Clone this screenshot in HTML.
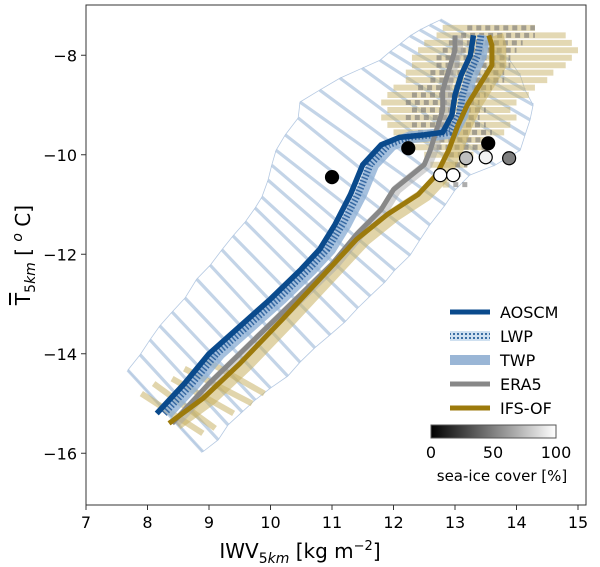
<!DOCTYPE html>
<html><head><meta charset="utf-8"><style>
body{margin:0;background:#fff;}
svg{display:block;font-family:"DejaVu Sans","Liberation Sans",sans-serif;}
</style></head><body>
<svg id="chart" width="600" height="567" viewBox="0 0 600 567">
<defs>
<pattern id="dots" width="4" height="4" patternUnits="userSpaceOnUse"><rect width="4" height="4" fill="#cfe0f0"/><circle cx="2" cy="2" r="1" fill="#0a4a8c"/></pattern>
<linearGradient id="ice" x1="0" x2="1"><stop offset="0" stop-color="#000"/><stop offset="1" stop-color="#fff"/></linearGradient>
</defs>
<g id="plot"></g>
<rect x="86" y="5" width="500" height="500" fill="none" stroke="#333" stroke-width="1"/>
<g id="axes"></g>
<text x="300" y="558" font-size="20" text-anchor="middle">IWV<tspan font-size="14" dy="5">5<tspan font-style="italic">km</tspan></tspan><tspan dy="-5"> [kg m</tspan><tspan font-size="13" dy="-8">−2</tspan><tspan dy="8">]</tspan></text>
<text transform="translate(30,255) rotate(-90)" font-size="20" text-anchor="middle"><tspan text-decoration="overline">T</tspan><tspan font-size="14" dy="5">5<tspan font-style="italic">km</tspan></tspan><tspan dy="-5"> [ </tspan><tspan font-style="italic" font-size="14" dy="-8">o</tspan><tspan dy="8"> C]</tspan></text>
<g id="legend">
<line x1="450" y1="312" x2="490" y2="312" stroke="#0a4a8c" stroke-width="5"/>
<text x="500" y="318" font-size="16">AOSCM</text>
<rect x="450" y="331" width="40" height="10" fill="url(#dots)"/>
<text x="500" y="342" font-size="16">LWP</text>
<rect x="450" y="355" width="40" height="10" fill="#9ab6d6"/>
<text x="500" y="366" font-size="16">TWP</text>
<line x1="450" y1="384" x2="490" y2="384" stroke="#888" stroke-width="5"/>
<text x="500" y="390" font-size="16">ERA5</text>
<line x1="450" y1="408" x2="490" y2="408" stroke="#9c7a0c" stroke-width="5"/>
<text x="500" y="414" font-size="16">IFS-OF</text>
<rect x="431" y="425" width="125" height="13" fill="url(#ice)" stroke="#555"/>
<text x="431" y="458" font-size="16" text-anchor="middle">0</text>
<text x="493" y="458" font-size="16" text-anchor="middle">50</text>
<text x="556" y="458" font-size="16" text-anchor="middle">100</text>
<text x="502" y="481" font-size="15" text-anchor="middle">sea-ice cover [%]</text>
</g>
</svg>
<script>
const xTicks=[7,8,9,10,11,12,13,14,15];
const yTicks=[-8,-10,-12,-14,-16];
const aoscmX=[8.15,8.6,9.0,9.5,10.0,10.5,10.8,11.05,11.3,11.5,11.8,12.1,12.5,12.8,12.95,13.0,13.1,13.25,13.3];
const aoscmY=[-15.2,-14.6,-14.0,-13.45,-12.9,-12.3,-11.9,-11.4,-10.8,-10.2,-9.8,-9.65,-9.6,-9.55,-9.2,-8.8,-8.4,-8.0,-7.6];
const era5X=[8.4,9.0,9.5,10.0,10.5,11.0,11.4,11.8,12.0,12.3,12.5,12.6,12.7,12.8,12.8,12.9,13.0,13.0];
const era5Y=[-15.4,-14.6,-14.0,-13.4,-12.8,-12.2,-11.6,-11.1,-10.7,-10.4,-10.2,-9.9,-9.5,-9.1,-8.7,-8.3,-7.9,-7.6];
const ifsX=[8.35,8.9,9.5,10.2,10.8,11.4,11.9,12.4,12.7,12.9,13.05,13.2,13.4,13.6,13.6,13.55];
const ifsY=[-15.4,-14.9,-14.2,-13.3,-12.5,-11.7,-11.2,-10.8,-10.4,-9.9,-9.4,-9.0,-8.6,-8.2,-7.8,-7.6];
const envLX=[7.68,7.88,8.04,8.20,8.40,8.61,8.80,9.02,9.21,9.39,9.59,9.75,9.86,9.96,10.02,10.09,10.24,10.45,10.48,10.80,11.13,11.49,11.78,11.94,12.11,12.27,12.43,12.59,12.76];
const envLY=[-14.33,-14.02,-13.72,-13.44,-13.16,-12.88,-12.50,-12.22,-11.91,-11.63,-11.35,-11.07,-10.85,-10.51,-10.21,-9.91,-9.60,-9.26,-8.94,-8.70,-8.46,-8.26,-8.10,-7.93,-7.77,-7.61,-7.49,-7.39,-7.29];
const envRX=[8.90,9.15,9.31,9.54,9.75,10.0,10.28,10.48,10.72,10.97,11.21,11.42,11.62,11.86,12.02,12.27,12.43,12.59,12.84,13.0,13.24,13.65,14.06,14.14,14.22,14.27,14.14,14.06,13.89];
const envRY=[-15.97,-15.73,-15.43,-15.17,-14.93,-14.69,-14.45,-14.17,-13.88,-13.62,-13.36,-13.08,-12.84,-12.56,-12.32,-12.02,-11.71,-11.41,-11.01,-10.71,-10.41,-10.21,-9.91,-9.60,-9.30,-9.00,-8.70,-8.40,-8.10];
const goldY=[-7.45,-7.6,-7.75,-7.9,-8.05,-8.2,-8.35,-8.5,-8.65,-8.8,-8.95,-9.1,-9.25,-9.4,-9.55,-9.7,-9.85,-10.0,-10.2,-10.4,-10.6];
const goldL=[12.8,12.7,12.5,12.4,12.3,12.3,12.2,12.2,12.0,11.9,11.8,11.9,11.8,11.9,12.0,12.2,12.3,12.5,12.6,12.7,12.8];
const goldR=[14.3,14.8,14.9,15.0,14.9,14.8,14.6,14.5,14.3,14.2,14.0,13.9,14.0,13.9,13.8,13.6,13.5,13.3,13.2,13.0,12.9];
const sGoldX1=[7.9,8.1,8.4,8.6,8.9];
const sGoldY1=[-14.8,-14.6,-14.5,-14.3,-14.1];
const sGoldX2=[8.9,9.1,9.4,9.7,9.9];
const sGoldY2=[-15.6,-15.5,-15.2,-15.0,-14.8];
const circX=[11.0,12.24,13.54,13.18,13.5,13.88,12.76,12.97];
const circY=[-10.45,-9.87,-9.77,-10.07,-10.05,-10.07,-10.41,-10.41];
const circIce=[0,0,0,75,95,50,100,100];

const sx=v=>86+(v-7)*61.5, sy=v=>5.5+(-7-v)*49.75;
const NS='http://www.w3.org/2000/svg';
const plot=document.getElementById('plot'), axes=document.getElementById('axes');
function mk(tag,attrs,parent){const e=document.createElementNS(NS,tag);for(const k in attrs)e.setAttribute(k,attrs[k]);parent.appendChild(e);return e;}
function pts(xs,ys,dx){return xs.map((x,i)=>sx(x+(dx||0))+','+sy(ys[i])).join(' ');}
const envPoly=mk('polygon',{points:pts(envLX,envLY)+' '+pts(envRX.slice().reverse(),envRY.slice().reverse()),fill:'none',stroke:'#b5c9e2','stroke-width':0.8},plot);


for(let i=0;i<envLX.length;i++){
 const l=mk('line',{x1:sx(envLX[i]),y1:sy(envLY[i]),x2:sx(envRX[i]),y2:sy(envRY[i]),stroke:'#b0c6e0','stroke-width':3.2,opacity:0.75},plot);
 
 
}
for(let i=0;i<goldY.length;i++){
 const g=mk('line',{x1:sx(goldL[i]),y1:sy(goldY[i]),x2:sx(goldR[i]),y2:sy(goldY[i]),stroke:'#c9b36a','stroke-width':6,opacity:0.5},plot);
 
 
 const d=mk('line',{x1:sx(goldL[i]+0.4),y1:sy(goldY[i]),x2:sx(Math.min(goldR[i],goldL[i]+1.6)),y2:sy(goldY[i]),stroke:'#777','stroke-width':5,'stroke-dasharray':'5 4',opacity:0.6},plot);
 
 
}
for(let i=0;i<sGoldX1.length;i++){
 const g=mk('line',{x1:sx(sGoldX1[i]),y1:sy(sGoldY1[i]),x2:sx(sGoldX2[i]),y2:sy(sGoldY2[i]),stroke:'#c9b36a','stroke-width':6,opacity:0.55},plot);
 
 
}
const ib=mk('polyline',{points:pts(ifsX,ifsY,0.12),fill:'none',stroke:'#c9b060','stroke-width':14,opacity:0.55,'stroke-linejoin':'round'},plot);


const eb=mk('polyline',{points:pts(era5X,era5Y,0.05),fill:'none',stroke:'#aaa','stroke-width':10,opacity:0.5},plot);


const tb=mk('polyline',{points:pts(aoscmX,aoscmY,0.17),fill:'none',stroke:'#8eb0d6','stroke-width':12,opacity:0.8,'stroke-linejoin':'round'},plot);


const lb=mk('polyline',{points:pts(aoscmX,aoscmY,0.12),fill:'none',stroke:'#2a5f9c','stroke-width':7,'stroke-dasharray':'1.5 2',opacity:0.9},plot);


const el=mk('polyline',{points:pts(era5X,era5Y),fill:'none',stroke:'#888','stroke-width':5,'stroke-linejoin':'round'},plot);


const il=mk('polyline',{points:pts(ifsX,ifsY),fill:'none',stroke:'#9c7a0c','stroke-width':5,'stroke-linejoin':'round'},plot);


const al=mk('polyline',{points:pts(aoscmX,aoscmY),fill:'none',stroke:'#0a4a8c','stroke-width':5.5,'stroke-linejoin':'round'},plot);


for(let i=0;i<circX.length;i++){
 const v=Math.round(circIce[i]*2.55);
 const c=mk('circle',{cx:sx(circX[i]),cy:sy(circY[i]),r:6.5,fill:`rgb(${v},${v},${v})`,stroke:'#000','stroke-width':1.2},plot);
 
 
}
xTicks.forEach(t=>{
 const l=mk('line',{x1:sx(t),y1:505,x2:sx(t),y2:510,stroke:'#333'},axes);
 
 
 const tx=mk('text',{x:sx(t),y:528,'font-size':16,'text-anchor':'middle'},axes);tx.textContent=t;
 
 
});
yTicks.forEach(t=>{
 const l=mk('line',{x1:81,y1:sy(t),x2:86,y2:sy(t),stroke:'#333'},axes);
 
 
 const tx=mk('text',{x:77,y:sy(t)+6,'font-size':16,'text-anchor':'end'},axes);tx.textContent='−'+Math.abs(t);
 
 
});
</script>
</body></html>
